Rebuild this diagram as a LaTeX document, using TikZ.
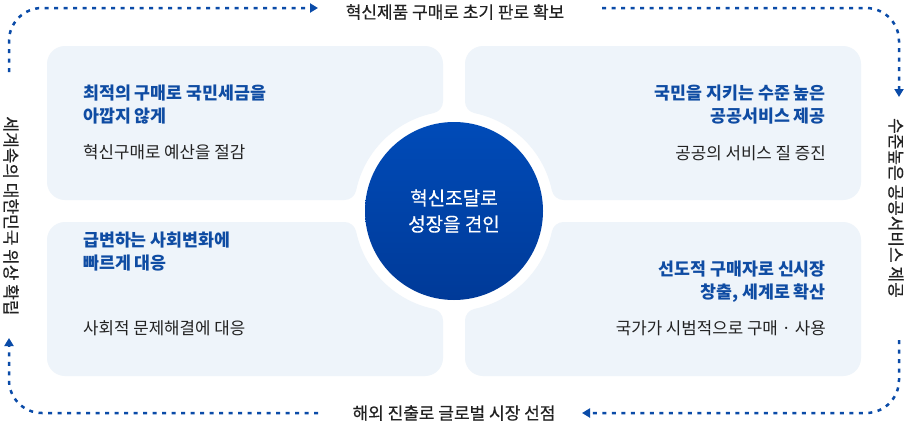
\documentclass[tikz,border=0pt]{standalone}
\usepackage{fontspec}
\setmainfont{Noto Sans CJK KR}
\newfontfamily\medfont{Noto Sans CJK KR}[FakeBold=0.4]
\usetikzlibrary{arrows.meta}
\definecolor{boxfill}{HTML}{EEF4FA}
\definecolor{ttlblue}{HTML}{0F4CA3}
\definecolor{dashblue}{HTML}{0A4BA8}
\definecolor{txtdark}{HTML}{222222}
\definecolor{circtop}{HTML}{004BB8}
\definecolor{circbot}{HTML}{003A98}
\begin{document}
\begin{tikzpicture}[x=1pt,y=-1pt,
  quad/.style={fill=boxfill},
  flow/.style={draw=dashblue, line width=2.5pt, dash pattern=on 4pt off 5.5pt},
  tip/.style={-{Triangle[length=8pt,width=9pt]}},
  ttl/.style={font=\fontsize{17.3}{23}\selectfont\bfseries, text=ttlblue, inner sep=0pt},
  body/.style={font=\fontsize{16.8}{18}\selectfont, text=txtdark, inner sep=0pt},
  side/.style={font=\fontsize{17}{18}\selectfont\medfont, text=txtdark, inner sep=0pt},
  hub/.style={circle, minimum size=178pt, inner sep=0pt, top color=circtop, bottom color=circbot, text=white, font=\fontsize{19}{26}\selectfont\medfont, align=center}
]
\useasboundingbox (0,0) rectangle (907,423);
\fill[white] (0,0) rectangle (907,423);

% four quadrant panels with circular cut-out
\foreach \sx/\sy in {1/1,-1/1,1/-1,-1/-1}{
  \begin{scope}[shift={(454,211)}, xscale=\sx, yscale=\sy]
    \fill[quad] (-109.61,-11) -- (-389,-11)
      arc[start angle=90,end angle=180,radius=18] -- (-407,-147)
      arc[start angle=180,end angle=270,radius=18] -- (-29,-165)
      arc[start angle=270,end angle=360,radius=18] -- (-11,-109.61)
      arc[start angle=0,end angle=78.15,radius=12]
      arc[start angle=258.15,end angle=191.85,radius=100]
      arc[start angle=11.85,end angle=90,radius=12] -- cycle;
  \end{scope}
}

\node[hub] (hub) at (454,211) {혁신조달로\\성장을 견인};

% panel texts
\node[ttl, anchor=west, align=left] (t1) at (83,104.5) {최적의 구매로 국민세금을\\아깝지 않게};
\node[body, anchor=west] (b1) at (83,152) {혁신구매로 예산을 절감};
\node[ttl, anchor=east, align=right] (t2) at (826,104.5) {국민을 지키는 수준 높은\\공공서비스 제공};
\node[body, anchor=east] (b2) at (826,153) {공공의 서비스 질 증진};
\node[ttl, anchor=west, align=left] (t3) at (83,251.5) {급변하는 사회변화에\\빠르게 대응};
\node[body, anchor=west] (b3) at (83,328) {사회적 문제해결에 대응};
\node[ttl, anchor=east, align=right] (t4) at (826,281.5) {선도적 구매자로 신시장\\창출, 세계로 확산};
\node[body, anchor=east] (b4) at (826,328) {국가가 시범적으로 구매 · 사용};

% outer labels
\node[side] (top) at (455,12) {혁신제품 구매로 초기 판로 확보};
\node[side] (bot) at (454,413) {해외 진출로 글로벌 시장 선점};
\node[side, rotate=-90] (lft) at (11,216) {세계속의 대한민국 위상 확립};
\node[side, rotate=-90] (rgt) at (896,208) {수준높은 공공서비스 제공};

% dashed flow path
\coordinate (a0) at (9,72);
\coordinate (a1) at (318,8);
\coordinate (b0) at (602,8);
\coordinate (b1e) at (899,97);
\coordinate (c0) at (899,340);
\coordinate (c1) at (582,413);
\coordinate (d0) at (318,413);
\coordinate (d1) at (9,338);

\draw[flow, tip] (a0) -- (9,41) arc[start angle=180,end angle=270,radius=33] -- (a1);
\draw[flow, tip] (b0) -- (866,8) arc[start angle=270,end angle=360,radius=33] -- (b1e);
\draw[flow, tip] (c0) -- (899,380) arc[start angle=0,end angle=90,radius=33] -- (c1);
\draw[flow, tip] (d0) -- (42,413) arc[start angle=90,end angle=180,radius=33] -- (d1);
\end{tikzpicture}
\end{document}
